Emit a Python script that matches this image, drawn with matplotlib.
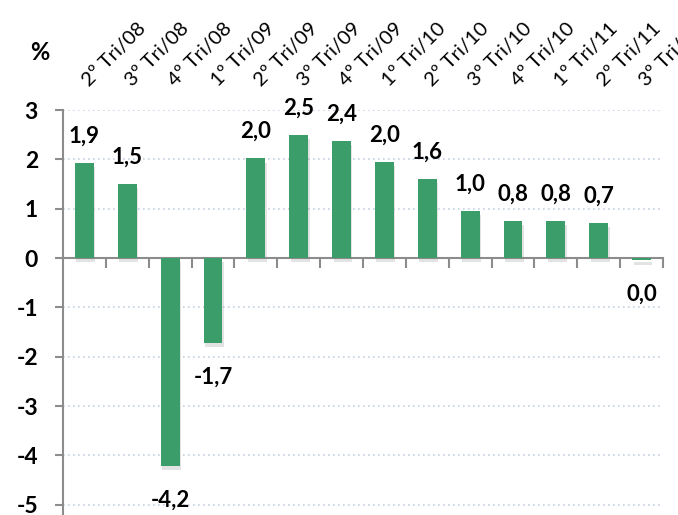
import matplotlib
matplotlib.use("Agg")
import matplotlib.pyplot as plt
import matplotlib.patheffects as pe
import matplotlib.transforms as mtransforms

# Dados do gráfico
trimestres = ["2º Tri/08", "3º Tri/08", "4º Tri/08", "1º Tri/09", "2º Tri/09",
              "3º Tri/09", "4º Tri/09", "1º Tri/10", "2º Tri/10", "3º Tri/10",
              "4º Tri/10", "1º Tri/11", "2º Tri/11", "3º Tri/11"]
valores = [1.93, 1.50, -4.22, -1.72, 2.02, 2.49, 2.37, 1.95, 1.60, 0.95,
           0.75, 0.75, 0.71, -0.05]
rotulos = ["1,9", "1,5", "-4,2", "-1,7", "2,0", "2,5", "2,4", "2,0", "1,6",
           "1,0", "0,8", "0,8", "0,7", "0,0"]
y_ticks = [-5, -4, -3, -2, -1, 0, 1, 2, 3]

plt.rcParams["font.family"] = ["Lato", "DejaVu Sans"]

fig = plt.figure(figsize=(6.78, 5.15), dpi=100)
ax = fig.add_axes([63 / 678, -0.0183, 600 / 678, 0.8047])

verde = "#3a9d6a"
x = list(range(len(valores)))
bars = ax.bar(x, valores, width=0.44, color=verde, zorder=3)
for b in bars:
    b.set_path_effects([pe.SimplePatchShadow(offset=(1, -3), shadow_rgbFace="#808080", alpha=0.22),
                        pe.Normal()])

ax.set_xlim(-0.5, len(valores) - 0.5)
ax.set_ylim(-5.4, 3)

# grade pontilhada
ax.set_yticks(y_ticks)
ax.yaxis.grid(True, linestyle=(0, (1, 2)), color="#c5d2e4", linewidth=1.2, zorder=0)
ax.set_yticklabels([str(t) for t in y_ticks], fontsize=16.5, fontweight="bold")
ax.tick_params(axis="y", direction="out", length=6, width=1.5, color="#8c8c8c", pad=12)

# eixo x na linha do zero, marcas entre categorias
for s in ["top", "right"]:
    ax.spines[s].set_visible(False)
ax.spines["bottom"].set_position(("data", 0))
ax.spines["bottom"].set_color("#8c8c8c")
ax.spines["bottom"].set_linewidth(1.5)
ax.spines["left"].set_color("#8c8c8c")
ax.spines["left"].set_linewidth(1.5)
ax.set_xticks([i + 0.5 for i in x])
ax.set_xticklabels([])
ax.tick_params(axis="x", direction="out", length=7, width=1.5, color="#8c8c8c")

# rótulos de valor
for xi, v, r in zip(x, valores, rotulos):
    dy = 27 if v > 0 else -34
    ax.annotate(r, (xi, v), xytext=(0, dy), textcoords="offset pixels",
                ha="center", va="center", fontsize=16, fontweight="bold", color="black")

# rótulos das categorias no topo, inclinados
trans = mtransforms.blended_transform_factory(ax.transData, ax.transAxes)
for xi, t in zip(x, trimestres):
    ax.text(xi + 0.12, 1.0556, t, transform=trans, rotation=45, rotation_mode="anchor",
            ha="left", va="baseline", fontsize=14.5, clip_on=False)

fig.text(40 / 678, 1 - 53 / 515, "%", ha="center", va="center", fontsize=17, fontweight="bold")

fig.savefig("out.png", dpi=100)
